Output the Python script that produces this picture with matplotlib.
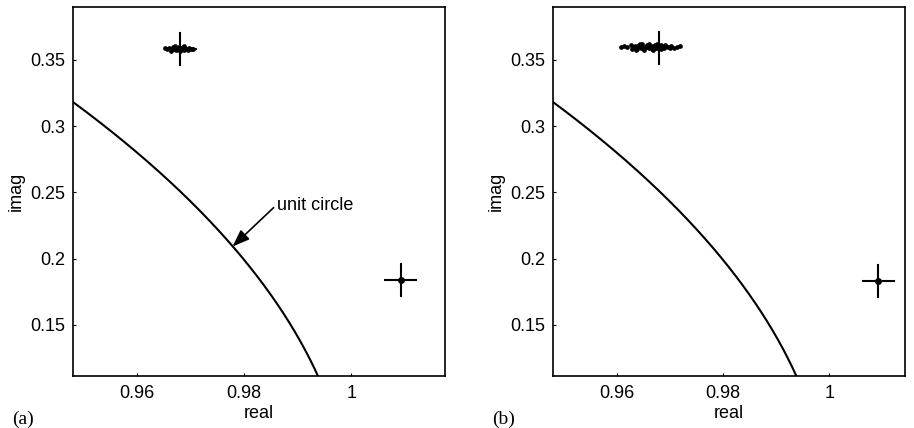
import numpy as np
import matplotlib
matplotlib.use("Agg")
import matplotlib.pyplot as plt

plt.rcParams['font.family'] = ['Liberation Sans', 'DejaVu Sans']

# ---- data ----
xlim = (0.948, 1.0175)
ylim = (0.1115, 0.390)
xticks = [0.96, 0.98, 1.0]
xticklabels = ['0.96', '0.98', '1']
yticks = [0.15, 0.20, 0.25, 0.30, 0.35]
yticklabels = ['0.15', '0.2', '0.25', '0.3', '0.35']

# reference eigenvalue positions (crosses)
cross_a = [(0.9680, 0.3580), (1.0092, 0.1840)]
cross_b = [(0.9680, 0.3590), (1.0092, 0.1835)]

# estimated eigenvalues, panel (a)
est_a_re = [0.9652, 0.9656, 0.9660, 0.9663, 0.9666, 0.9668, 0.9670, 0.9672, 0.9674,
            0.9676, 0.9678, 0.9680, 0.9682, 0.9684, 0.9686, 0.9688, 0.9690, 0.9693,
            0.9696, 0.9699, 0.9702, 0.9705, 0.9664, 0.9671, 0.9679, 0.9687, 0.9694,
            0.9669, 0.9677, 0.9685]
est_a_im = [0.3588, 0.3580, 0.3592, 0.3576, 0.3596, 0.3584, 0.3600, 0.3578, 0.3590,
            0.3582, 0.3598, 0.3574, 0.3592, 0.3580, 0.3596, 0.3578, 0.3588, 0.3584,
            0.3594, 0.3580, 0.3586, 0.3582, 0.3570, 0.3604, 0.3566, 0.3602, 0.3574,
            0.3586, 0.3590, 0.3588]
est_a2 = (1.0092, 0.1840)

# estimated eigenvalues, panel (b)
est_b_re = [0.9608, 0.9614, 0.9620, 0.9626, 0.9630, 0.9634, 0.9638, 0.9642, 0.9645,
            0.9648, 0.9651, 0.9654, 0.9657, 0.9660, 0.9663, 0.9666, 0.9669, 0.9672,
            0.9675, 0.9678, 0.9681, 0.9684, 0.9688, 0.9692, 0.9697, 0.9702, 0.9708,
            0.9714, 0.9719, 0.9636, 0.9644, 0.9652, 0.9660, 0.9668, 0.9676, 0.9684,
            0.9640, 0.9656, 0.9664, 0.9672, 0.9690, 0.9700, 0.9628, 0.9648, 0.9662]
est_b_im = [0.3598, 0.3608, 0.3596, 0.3612, 0.3590, 0.3604, 0.3586, 0.3614, 0.3594,
            0.3606, 0.3584, 0.3600, 0.3616, 0.3588, 0.3608, 0.3580, 0.3602, 0.3612,
            0.3590, 0.3604, 0.3594, 0.3610, 0.3592, 0.3602, 0.3596, 0.3606, 0.3592,
            0.3600, 0.3602, 0.3576, 0.3620, 0.3578, 0.3622, 0.3574, 0.3620, 0.3582,
            0.3602, 0.3596, 0.3598, 0.3588, 0.3612, 0.3588, 0.3584, 0.3622, 0.3606]
est_b2 = (1.0092, 0.1835)

cross_dx = 0.0029
cross_dy = 0.0120

annot_text = 'unit circle'
annot_tip = (0.9778, 0.2092)
annot_text_pos = (0.9862, 0.2405)

FS = 13

W, H = 914, 428
fig = plt.figure(figsize=(W / 100, H / 100), dpi=100)

def px_axes(l, r, t, b):
    return fig.add_axes([l / W, 1 - b / H, (r - l) / W, (b - t) / H])

def style(ax):
    ax.set_xlim(*xlim)
    ax.set_ylim(*ylim)
    ax.set_xticks(xticks)
    ax.set_xticklabels(xticklabels)
    ax.set_yticks(yticks)
    ax.set_yticklabels(yticklabels)
    ax.tick_params(direction='in', length=2.5, width=0.8, labelsize=FS,
                   colors='black')
    ax.tick_params(axis='x', pad=6.5)
    ax.tick_params(axis='y', pad=5.5)
    for s in ax.spines.values():
        s.set_linewidth(1.2)
    ax.set_xlabel('real', fontsize=FS, labelpad=2)
    ax.set_ylabel('imag', fontsize=FS, labelpad=4)

def draw_circle(ax):
    th = np.linspace(0, np.pi / 2, 2000)
    ax.plot(np.cos(th), np.sin(th), color='black', lw=1.5)

def draw_cross(ax, c):
    x, y = c
    ax.plot([x - cross_dx, x + cross_dx], [y, y], color='black', lw=1.5)
    ax.plot([x, x], [y - cross_dy, y + cross_dy], color='black', lw=1.5)

# panel (a)
axa = px_axes(73, 445, 7, 376)
style(axa)
draw_circle(axa)
axa.plot(est_a_re, est_a_im, 'o', color='black', ms=3.4, mew=0)
axa.plot([est_a2[0]], [est_a2[1]], 'o', color='black', ms=5, mew=0)
for c in cross_a:
    draw_cross(axa, c)
axa.annotate(annot_text, xy=annot_tip, xytext=annot_text_pos,
             fontsize=FS, va='center', ha='left',
             arrowprops=dict(arrowstyle='-|>,head_length=0.8,head_width=0.3',
                             color='black', lw=1.2, shrinkA=0, shrinkB=0,
                             relpos=(-0.05, 0.35)))

# panel (b)
axb = px_axes(553, 905, 7, 376)
style(axb)
axb.set_xlim(xlim[0], 1.0142)
draw_circle(axb)
axb.plot(est_b_re, est_b_im, 'o', color='black', ms=3.4, mew=0)
axb.plot([est_b2[0]], [est_b2[1]], 'o', color='black', ms=5, mew=0)
for c in cross_b:
    draw_cross(axb, c)

fig.text(12 / W, 1 - 419 / H, '(a)', family=['Liberation Serif'], fontsize=14, va='center')
fig.text(492 / W, 1 - 419 / H, '(b)', family=['Liberation Serif'], fontsize=14, va='center')

fig.savefig('out.png', dpi=100)
